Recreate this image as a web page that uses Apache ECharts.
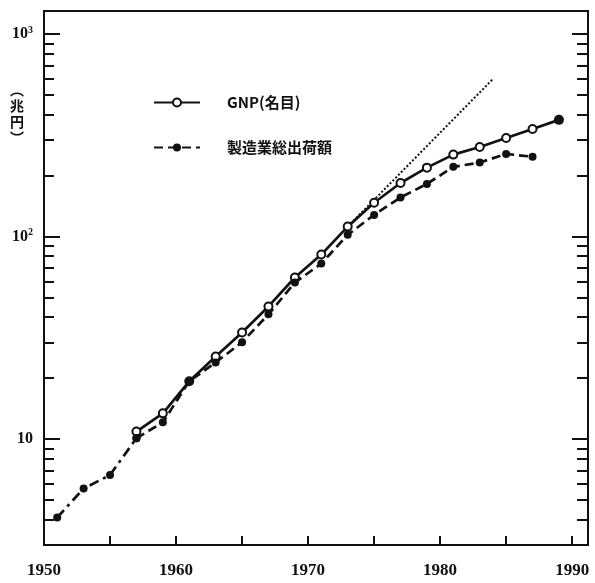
<!DOCTYPE html>
<html><head><meta charset="utf-8">
<script src="https://cdn.jsdelivr.net/npm/echarts@6/dist/echarts.min.js"></script>
<style>html,body{margin:0;padding:0;background:#fff}#c{width:595px;height:583px}</style>
</head><body><div id="c"></div>
<script>
// ---- data ----
const gnpYears = [1957,1959,1961,1963,1965,1967,1969,1971,1973,1975,1977,1979,1981,1983,1985,1987,1989];
const gnpValues = [10.9,13.4,19.3,25.6,33.6,45.2,62.8,81.5,112,147,184,219,254,277,307,340,377];
const mfgYears = [1957,1959,1961,1963,1965,1967,1969,1971,1973,1975,1977,1979,1981,1983,1985,1987];
const mfgValues = [10.1,12.1,19.3,23.9,30.1,41.3,59.3,73.6,102,128,156,182,221,232,256,248];
const mfgEarlyYears = [1951,1953,1955,1957];
const mfgEarlyValues = [4.1,5.7,6.65,10.1];
const trendYears = [1973,1984];
const trendValues = [112,600];
const xLabelYears = [1950,1960,1970,1980,1990];
const yMajorTicks = [10,100,1000];
const yMinorTicks = [4,5,6,7,8,9,20,30,40,50,60,70,80,90,200,300,400,500,600,700,800,900];
const yLabelText = {10:'10', 100:'10{s|2}', 1000:'10{s|3}'};
const gnpName = 'GNP(名目)';
const mfgName = '製造業総出荷額';

const ink = '#111';
const pairs = (xs, ys) => xs.map((x, i) => [x, ys[i]]);
const gnpData = pairs(gnpYears, gnpValues).map((p, i, a) =>
  i === a.length - 1 ? {value: p, symbol: 'circle', symbolSize: 10} : p);

function yAx(pos, ticks, len, withLabels) {
  return {
    type: 'log', logBase: 10, min: 3, max: 1300, position: pos,
    axisLine: {show: true, onZero: false, lineStyle: {color: ink, width: 2}},
    axisTick: {show: true, inside: true, length: len, customValues: ticks, lineStyle: {color: ink, width: 2}},
    axisLabel: withLabels ? {
      customValues: yMajorTicks, margin: 11,
      formatter: v => yLabelText[Math.round(v)] || '',
      fontFamily: 'Liberation Serif', fontWeight: 'bold', fontSize: 16, color: ink,
      rich: {s: {fontFamily: 'Liberation Serif', fontWeight: 'bold', fontSize: 10, color: ink, verticalAlign: 'top', padding: [0, 0, 8, 0]}}
    } : {show: false},
    splitLine: {show: false}, minorTick: {show: false}
  };
}

const chart = echarts.init(document.getElementById('c'), null, {renderer: 'canvas'});
chart.setOption({
  animation: false,
  backgroundColor: '#fff',
  grid: {left: 44, right: 7, top: 11, bottom: 38, show: true, borderColor: ink, borderWidth: 2, outerBoundsMode: 'none'},
  xAxis: {
    type: 'value', min: 1950, max: 1991.2, interval: 5,
    axisLine: {onZero: false, lineStyle: {color: ink, width: 2}},
    axisTick: {inside: true, length: 9, lineStyle: {color: ink, width: 2}},
    axisLabel: {customValues: xLabelYears, formatter: v => String(Math.round(v)), margin: 17,
      fontFamily: 'Liberation Serif', fontWeight: 'bold', fontSize: 17, color: ink},
    splitLine: {show: false}
  },
  yAxis: [
    yAx('left', yMajorTicks, 16, true),
    yAx('left', yMinorTicks, 10, false),
    yAx('right', yMajorTicks, 16, false),
    yAx('right', yMinorTicks, 11, false)
  ],
  legend: {
    orient: 'vertical', left: 148, top: 90, itemWidth: 46, itemHeight: 10, itemGap: 30,
    selectedMode: false,
    data: [gnpName, mfgName],
    textStyle: {fontFamily: 'Noto Sans CJK JP', fontWeight: 'bold', fontSize: 15, color: ink, padding: [0, 0, 0, 22], lineHeight: 14}
  },
  graphic: [{
    type: 'text', x: 17, y: 82,
    style: {text: '︵\n兆\n円\n︶', font: 'bold 14px "Noto Sans CJK JP"', fill: ink, align: 'center', verticalAlign: 'top', lineHeight: 16}
  }],
  series: [
    {name: gnpName, type: 'line', yAxisIndex: 0, data: gnpData,
     symbol: 'emptyCircle', symbolSize: 8,
     lineStyle: {color: ink, width: 2.7, type: 'solid'},
     itemStyle: {color: ink, borderWidth: 2}, z: 3},
    {name: mfgName, type: 'line', yAxisIndex: 0, data: pairs(mfgYears, mfgValues),
     symbol: 'circle', symbolSize: 8,
     lineStyle: {color: ink, width: 2.7, type: [9, 5]},
     itemStyle: {color: ink}, z: 4},
    {name: mfgName, type: 'line', yAxisIndex: 0, data: pairs(mfgEarlyYears, mfgEarlyValues),
     symbol: 'circle', symbolSize: 8,
     lineStyle: {color: ink, width: 2.7, type: [10, 5, 3, 5]},
     itemStyle: {color: ink}, z: 4},
    {name: 'trend', type: 'line', yAxisIndex: 0, data: pairs(trendYears, trendValues),
     symbol: 'none', lineStyle: {color: ink, width: 2, type: [2, 2]}, z: 2}
  ]
});
</script></body></html>
